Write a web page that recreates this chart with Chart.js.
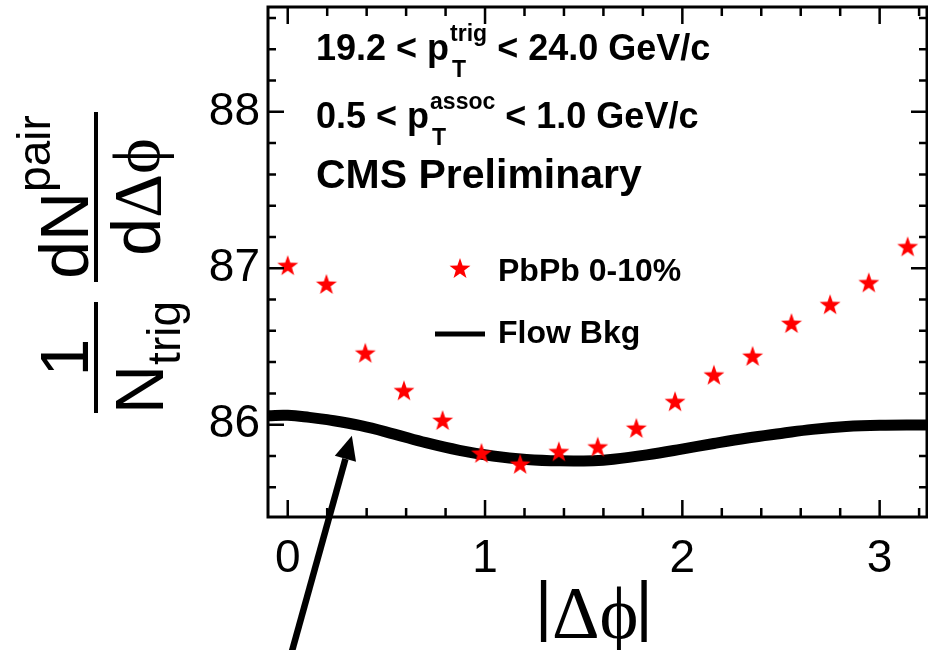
<!DOCTYPE html>
<html>
<head>
<meta charset="utf-8">
<script src="https://cdn.jsdelivr.net/npm/chart.js@4.4.0/dist/chart.umd.min.js"></script>
<style>
  html, body { margin: 0; padding: 0; background: #fff; }
  canvas { display: block; }
</style>
</head>
<body>
<canvas id="c" width="928" height="650"></canvas>
<script>
// |dphi| bin centres and per-trigger pair yield, PbPb 0-10%
const dphi = [0.000, 0.196, 0.393, 0.589, 0.785, 0.982, 1.178, 1.374, 1.571,
              1.767, 1.963, 2.160, 2.356, 2.553, 2.749, 2.945, 3.142];
const pbpbYield = [87.02, 86.90, 86.46, 86.22, 86.03, 85.82, 85.75, 85.83, 85.86,
                   85.98, 86.15, 86.32, 86.44, 86.65, 86.77, 86.91, 87.14];

// flow background shape
const bkgPhi = [-0.10, 0.00, 0.11, 0.20, 0.37, 0.54, 0.70, 0.87, 1.04, 1.21, 1.38,
                1.55, 1.65, 1.82, 1.99, 2.16, 2.33, 2.50, 2.66, 2.83, 3.00, 3.21, 3.24];
const bkgYield = [86.058, 86.060, 86.047, 86.032, 85.994, 85.940, 85.885, 85.836, 85.800,
                  85.778, 85.769, 85.770, 85.779, 85.807, 85.842, 85.880, 85.915, 85.944,
                  85.970, 85.988, 85.996, 85.998, 85.998];

const xTicks = [0, 1, 2, 3];
const yTicks = [86, 87, 88];

const SANS = '"Liberation Sans", Arial, Helvetica, sans-serif';
const SERIF = '"Liberation Serif", "DejaVu Serif", "Times New Roman", serif';

// filled red star used as the point marker
function makeStar(R, color) {
  const size = Math.ceil(R * 2) + 2;
  const c = document.createElement('canvas');
  c.width = size; c.height = size;
  const g = c.getContext('2d');
  const r = R * 0.4;
  g.translate(size / 2, size / 2 + R * 0.1);
  g.beginPath();
  for (let i = 0; i < 10; i++) {
    const a = -Math.PI / 2 + i * Math.PI / 5;
    const rr = i % 2 === 0 ? R : r;
    g.lineTo(rr * Math.cos(a), rr * Math.sin(a));
  }
  g.closePath();
  g.fillStyle = color;
  g.fill();
  return c;
}
const star = makeStar(11, '#ff0000');

// text with a stacked sub/superscript after the base part
function drawScripted(ctx, x, y, base, sup, sub, rest) {
  const big = 'bold 36px ' + SANS;
  const small = 'bold 23px ' + SANS;
  ctx.font = big;
  ctx.fillText(base, x, y);
  let cx = x + ctx.measureText(base).width + 1;
  ctx.font = small;
  ctx.fillText(sup, cx, y - 19);
  ctx.fillText(sub, cx + 2, y + 17);
  cx += Math.max(ctx.measureText(sup).width, ctx.measureText(sub).width + 2);
  ctx.font = big;
  ctx.fillText(rest, cx, y);
}

const decorations = {
  id: 'decorations',
  afterDraw(chart) {
    const ctx = chart.ctx;
    const { left, right, top, bottom } = chart.chartArea;
    const xs = chart.scales.x, ys = chart.scales.y;
    ctx.save();
    ctx.fillStyle = '#000';
    ctx.strokeStyle = '#000';

    // frame
    ctx.lineWidth = 3;
    ctx.strokeRect(left, top, right - left, bottom - top);

    // inward ticks on all four sides
    ctx.lineWidth = 2.5;
    ctx.beginPath();
    for (let i = 0; i <= 16; i++) {
      const px = xs.getPixelForValue(i * 0.2);
      const len = i % 5 === 0 ? 17 : 9;
      ctx.moveTo(px, bottom); ctx.lineTo(px, bottom - len);
      ctx.moveTo(px, top); ctx.lineTo(px, top + len);
    }
    for (let k = 0; k <= 15; k++) {
      const v = 85.6 + k * 0.2;
      const py = ys.getPixelForValue(v);
      const len = Math.abs(v - Math.round(v)) < 1e-6 ? 16 : 8;
      ctx.moveTo(left, py); ctx.lineTo(left + len, py);
      ctx.moveTo(right, py); ctx.lineTo(right - len, py);
    }
    ctx.stroke();

    // labels inside the frame
    ctx.textAlign = 'left';
    ctx.textBaseline = 'alphabetic';
    drawScripted(ctx, 316, 59.5, '19.2 < p', 'trig', 'T', ' < 24.0 GeV/c');
    drawScripted(ctx, 316, 128, '0.5 < p', 'assoc', 'T', ' < 1.0 GeV/c');
    ctx.font = 'bold 41px ' + SANS;
    ctx.fillText('CMS Preliminary', 316, 188);

    // legend
    ctx.drawImage(star, 460 - star.width / 2, 268 - star.height / 2);
    ctx.lineWidth = 5;
    ctx.beginPath();
    ctx.moveTo(435, 334); ctx.lineTo(485, 334);
    ctx.stroke();
    ctx.font = 'bold 32px ' + SANS;
    ctx.fillText('PbPb 0-10%', 498, 281);
    ctx.fillText('Flow Bkg', 498, 343);

    // arrow pointing at the background curve
    const tail = { x: xs.getPixelForValue(0.010), y: ys.getPixelForValue(84.50) };
    const tip = { x: xs.getPixelForValue(0.325), y: ys.getPixelForValue(85.93) };
    const ang = Math.atan2(tip.y - tail.y, tip.x - tail.x);
    const headLen = 24, headW = 11;
    const bx = tip.x - headLen * Math.cos(ang), by = tip.y - headLen * Math.sin(ang);
    ctx.lineWidth = 6.5;
    ctx.beginPath();
    ctx.moveTo(tail.x, tail.y); ctx.lineTo(bx, by);
    ctx.stroke();
    ctx.beginPath();
    ctx.moveTo(tip.x, tip.y);
    ctx.lineTo(bx + headW * Math.sin(ang), by - headW * Math.cos(ang));
    ctx.lineTo(bx - headW * Math.sin(ang), by + headW * Math.cos(ang));
    ctx.closePath();
    ctx.fill();

    // x axis title |Δφ|
    ctx.font = '66px ' + SANS;
    ctx.fillText('|', 535, 628);
    ctx.font = '74px ' + SERIF;
    ctx.fillText('\u0394\u03D5', 552, 638);
    const wg = ctx.measureText('\u0394\u03D5').width;
    ctx.font = '66px ' + SANS;
    ctx.fillText('|', 552 + wg - 3, 628);

    // y axis title: 1/N_trig dN^pair/dΔφ, rotated
    ctx.rotate(-Math.PI / 2);
    const bigY = '68px ' + SANS, smallY = '46px ' + SANS;
    ctx.textAlign = 'center';
    ctx.font = bigY;
    ctx.fillText('1', -357.5, 88);
    ctx.fillRect(-413, 94, 111, 4);
    ctx.textAlign = 'left';
    const wN = ctx.measureText('N').width;
    ctx.font = smallY;
    const wT = ctx.measureText('trig').width;
    let u0 = -357.5 - (wN + wT) / 2;
    ctx.font = bigY;
    ctx.fillText('N', u0, 163);
    ctx.font = smallY;
    ctx.fillText('trig', u0 + wN, 180);

    ctx.fillRect(-282, 94, 170, 4);
    ctx.font = bigY;
    const wdN = ctx.measureText('dN').width;
    ctx.font = smallY;
    const wP = ctx.measureText('pair').width;
    u0 = -197 - (wdN + wP) / 2;
    ctx.font = bigY;
    ctx.fillText('dN', u0, 88);
    ctx.font = smallY;
    ctx.fillText('pair', u0 + wdN, 50);

    ctx.font = bigY;
    const wd = ctx.measureText('d').width;
    ctx.font = '68px ' + SERIF;
    const wDp = ctx.measureText('\u0394\u03D5').width;
    u0 = -197 - (wd + wDp) / 2;
    ctx.font = bigY;
    ctx.fillText('d', u0, 160);
    ctx.font = '68px ' + SERIF;
    ctx.fillText('\u0394\u03D5', u0 + wd, 160);

    ctx.restore();
  }
};

new Chart(document.getElementById('c'), {
  type: 'scatter',
  data: {
    datasets: [
      {
        label: 'PbPb 0-10%',
        data: dphi.map((x, i) => ({ x, y: pbpbYield[i] })),
        pointStyle: star,
        pointRadius: 11,
        showLine: false,
        order: 0
      },
      {
        label: 'Flow Bkg',
        data: bkgPhi.map((x, i) => ({ x, y: bkgYield[i] })),
        showLine: true,
        borderColor: '#000',
        borderWidth: 11,
        pointRadius: 0,
        tension: 0.4,
        borderCapStyle: 'butt',
        order: 1
      }
    ]
  },
  options: {
    responsive: false,
    animation: false,
    devicePixelRatio: 1,
    layout: { autoPadding: false, padding: { top: 7, right: 1, left: 0, bottom: 0 } },
    plugins: { legend: { display: false }, tooltip: { enabled: false } },
    scales: {
      x: {
        type: 'linear',
        min: -0.1,
        max: 3.24,
        afterBuildTicks: s => { s.ticks = xTicks.map(v => ({ value: v })); },
        afterFit: s => { s.height = 133; s.paddingLeft = 0; s.paddingRight = 0; },
        grid: { display: false, drawTicks: false },
        border: { display: false },
        ticks: {
          color: '#000',
          font: { family: SANS, size: 46 },
          padding: 15,
          maxRotation: 0,
          autoSkip: false
        }
      },
      y: {
        type: 'linear',
        min: 85.41,
        max: 88.67,
        afterBuildTicks: s => { s.ticks = yTicks.map(v => ({ value: v })); },
        afterFit: s => { s.width = 268; s.paddingTop = 0; s.paddingBottom = 0; },
        grid: { display: false, drawTicks: false },
        border: { display: false },
        ticks: {
          color: '#000',
          font: { family: SANS, size: 46 },
          padding: 8
        }
      }
    }
  },
  plugins: [decorations]
});
</script>
</body>
</html>
